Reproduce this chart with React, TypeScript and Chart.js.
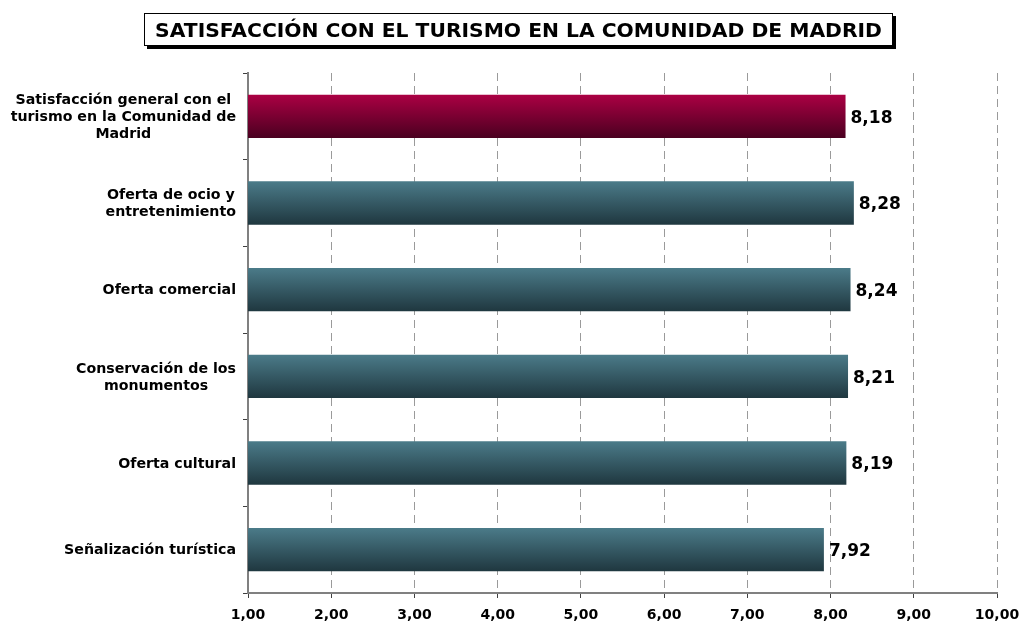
import React, { useEffect, useRef } from "react";
import { Chart, registerables } from "chart.js";

Chart.register(...registerables);

const TITLE = "SATISFACCIÓN CON EL TURISMO EN LA COMUNIDAD DE MADRID";

const categories: string[][] = [
  ["Satisfacción general con el", "turismo en la Comunidad de", "Madrid"],
  ["Oferta de ocio y", "entretenimiento"],
  ["Oferta comercial"],
  ["Conservación de los", "monumentos"],
  ["Oferta cultural"],
  ["Señalización turística"],
];

const values: number[] = [8.18, 8.28, 8.24, 8.21, 8.19, 7.92];

const xMin = 1;
const xMax = 10;

const FONT = "'DejaVu Sans', Verdana, sans-serif";

const fmt = (v: number) => v.toFixed(2).replace(".", ",");

const gradientFor = (ctx: any) => {
  const chart = ctx.chart;
  const area = chart.chartArea;
  const y = chart.scales.y;
  if (!area || !y) return "#3f6a76";
  const c = y.getPixelForValue(ctx.dataIndex);
  const h = (area.bottom - area.top) / categories.length * 0.5;
  const g = chart.ctx.createLinearGradient(0, c - h / 2, 0, c + h / 2);
  if (ctx.dataIndex === 0) {
    g.addColorStop(0, "#ab0043");
    g.addColorStop(1, "#4a0020");
  } else {
    g.addColorStop(0, "#4b7b89");
    g.addColorStop(1, "#1f373f");
  }
  return g;
};

const labelsPlugin = {
  id: "customLabels",
  afterDatasetsDraw(chart: any) {
    const { ctx } = chart;
    const y = chart.scales.y;
    const x = chart.scales.x;
    ctx.save();
    // category labels
    ctx.font = `bold 14.2px ${FONT}`;
    ctx.fillStyle = "#000";
    ctx.textBaseline = "middle";
    ctx.textAlign = "center";
    const right = 236;
    const lh = 17;
    categories.forEach((lines, i) => {
      const cy = y.getPixelForValue(i);
      const widths = lines.map((l) => ctx.measureText(l).width);
      const maxW = Math.max(...widths);
      const cx = right - maxW / 2;
      const top = cy - ((lines.length - 1) * lh) / 2;
      lines.forEach((l, j) => ctx.fillText(l, cx, top + j * lh + 1));
    });
    // value labels
    ctx.font = `bold 17px ${FONT}`;
    ctx.textAlign = "left";
    values.forEach((v, i) => {
      const px = x.getPixelForValue(v);
      const cy = y.getPixelForValue(i);
      ctx.fillText(fmt(v), px + 5, cy + 2);
    });
    ctx.restore();
  },
};

export default function App() {
  const ref = useRef<HTMLCanvasElement>(null);
  useEffect(() => {
    if (!ref.current) return;
    const chart = new Chart(ref.current, {
      type: "bar",
      data: {
        labels: categories,
        datasets: [
          {
            data: values,
            backgroundColor: gradientFor,
            borderWidth: 0,
            barPercentage: 0.5,
            categoryPercentage: 1,
          },
        ],
      },
      options: {
        indexAxis: "y",
        animation: false,
        responsive: true,
        maintainAspectRatio: false,
        layout: { padding: { top: 73, right: 25, left: 0, bottom: 0 } },
        plugins: {
          legend: { display: false },
          tooltip: { enabled: false },
        },
        scales: {
          x: {
            min: xMin,
            max: xMax,
            afterFit: (s: any) => {
              s.height = 30;
              s.paddingLeft = 0;
              s.paddingRight = 0;
            },
            ticks: {
              stepSize: 1,
              callback: (v: any) => fmt(Number(v)),
              font: { family: FONT, size: 14, weight: "bold" },
              color: "#000",
              padding: 9,
              maxRotation: 0,
            },
            grid: {
              color: (c: any) => (c.tick && c.tick.value === xMin ? "rgba(0,0,0,0)" : "#9a9a9a"),
              lineWidth: 1,
              drawTicks: true,
              tickLength: 5,
              tickColor: "#404040",
              tickBorderDash: [],
            },
            border: { display: true, color: "#808080", width: 2, dash: [8, 5] },
          },
          y: {
            afterFit: (s: any) => {
              s.width = 248;
              s.paddingTop = 0;
              s.paddingBottom = 0;
            },
            ticks: { display: false },
            grid: {
              offset: true,
              drawOnChartArea: false,
              drawTicks: true,
              tickLength: 5,
              tickColor: "#404040",
            },
            border: { display: true, color: "#808080", width: 2 },
          },
        },
      },
      plugins: [labelsPlugin],
    });
    return () => chart.destroy();
  }, []);

  return (
    <div style={{ position: "absolute", left: 0, top: 0, width: 1022, height: 623 }}>
      <div
        style={{
          position: "absolute",
          left: 144,
          top: 13,
          width: 747,
          height: 31,
          border: "1px solid #000",
          boxShadow: "3px 3px 0 #000",
          background: "#fff",
          display: "flex",
          alignItems: "center",
          justifyContent: "center",
          fontFamily: FONT,
          fontWeight: "bold",
          fontSize: 20.3,
          color: "#000",
          whiteSpace: "nowrap",
          zIndex: 1,
        }}
      >
        {TITLE}
      </div>
      <canvas ref={ref} />
    </div>
  );
}
